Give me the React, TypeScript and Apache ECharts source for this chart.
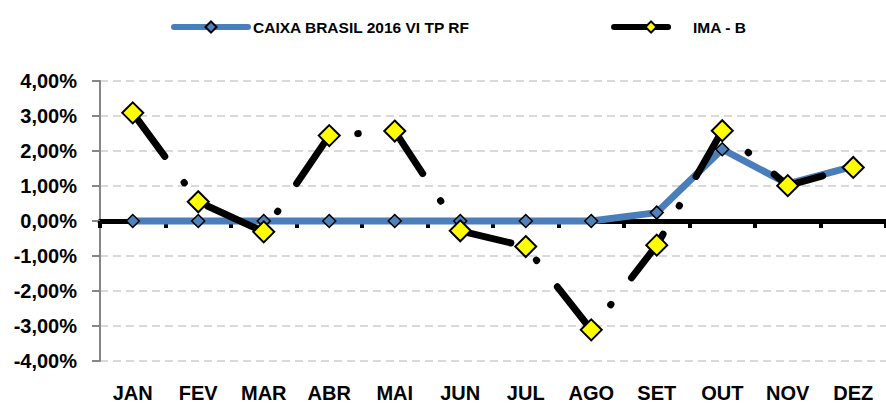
import React, { useEffect, useRef } from "react";
import * as echarts from "echarts";

const categories = ["JAN", "FEV", "MAR", "ABR", "MAI", "JUN", "JUL", "AGO", "SET", "OUT", "NOV", "DEZ"];
const caixaName = "CAIXA BRASIL 2016 VI TP RF";
const imabName = "IMA - B";
const caixaValues = [0, 0, 0, 0, 0, 0, 0, 0, 0.24, 2.05, 1.06, 1.56];
const imabValues = [3.09, 0.55, -0.31, 2.44, 2.57, -0.28, -0.73, -3.11, -0.69, 2.58, 1.01, 1.53];
const yMin = -4;
const yMax = 4;
const yStep = 1;

const FONT = "'Liberation Sans', Arial, sans-serif";

const fmt = (v: number) => v.toFixed(2).replace(".", ",") + "%";

export default function App() {
  const ref = useRef<HTMLDivElement>(null);
  useEffect(() => {
    if (!ref.current) return;
    const chart = echarts.init(ref.current, undefined, { renderer: "svg" });
    chart.setOption({
      animation: false,
      backgroundColor: "#ffffff",
      legend: {
        left: 166,
        top: 14,
        itemWidth: 74,
        itemHeight: 14,
        itemGap: 141,
        textStyle: { fontFamily: FONT, fontWeight: "bold", fontSize: 15.5, color: "#000" },
        lineStyle: { width: 6 },
        data: [caixaName, imabName],
      },
      grid: { left: 100, right: 0, top: 81, bottom: 44 },
      xAxis: [
        {
          type: "category",
          data: categories,
          position: "bottom",
          axisLine: { show: false, onZero: false },
          axisTick: { show: false },
          axisLabel: { margin: 22, fontFamily: FONT, fontWeight: "bold", fontSize: 20, color: "#000" },
          splitLine: { show: false },
        },
        {
          type: "category",
          data: categories,
          position: "top",
          axisLine: { show: true, onZero: true, lineStyle: { color: "#000", width: 5 } },
          axisTick: { show: true, inside: true, length: 7, lineStyle: { color: "#000", width: 4 } },
          axisLabel: { show: false },
          splitLine: { show: false },
        },
      ],
      yAxis: {
        type: "value",
        min: yMin,
        max: yMax,
        interval: yStep,
        axisLine: { show: true, lineStyle: { color: "#868686", width: 2 } },
        axisTick: { show: true, length: 8, lineStyle: { color: "#868686", width: 2 } },
        axisLabel: {
          formatter: fmt,
          margin: 23,
          fontFamily: FONT,
          fontWeight: "bold",
          fontSize: 20,
          color: "#000",
        },
        splitLine: { show: true, lineStyle: { color: "#d9d9d9", width: 2, type: [8, 5] } },
      },
      series: [
        {
          name: caixaName,
          type: "line",
          data: caixaValues,
          symbol: "diamond",
          symbolSize: 13,
          lineStyle: { color: "#4a7ebb", width: 7, cap: "round", join: "round" },
          itemStyle: { color: "#4f81bd", borderColor: "#000", borderWidth: 1.5 },
          z: 3,
        },
        {
          name: imabName,
          type: "line",
          data: imabValues,
          symbol: "diamond",
          symbolSize: 21,
          lineStyle: { color: "#000", width: 7, type: [54, 32.5, 0.5, 33.5], cap: "round", join: "round" },
          itemStyle: { color: "#ffff00", borderColor: "#000", borderWidth: 2 },
          z: 4,
        },
      ],
    });
    return () => chart.dispose();
  }, []);
  return (
    <div
      ref={ref}
      style={{ position: "fixed", left: 0, top: 0, width: 886, height: 405 }}
    />
  );
}
